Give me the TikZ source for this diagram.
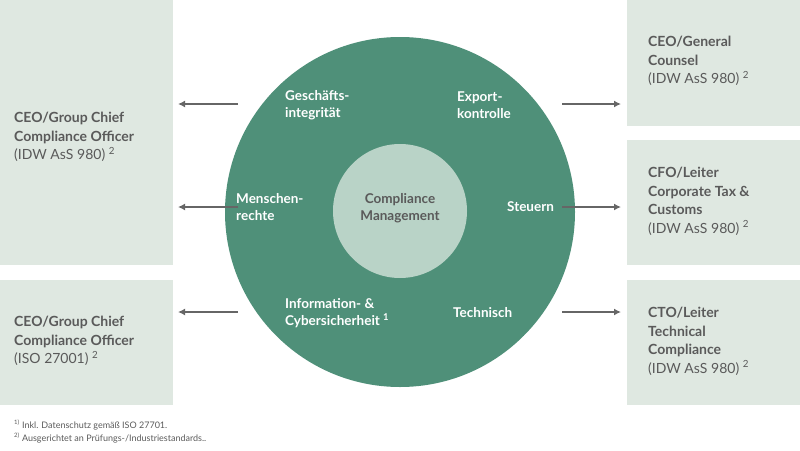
\documentclass[tikz,border=0pt]{standalone}
\usepackage{fontspec}
\setmainfont{Lato}
\begin{document}
\begin{tikzpicture}[x=1pt,y=-1pt,
  box/.style={fill=boxc,draw=none},
  bt/.style={anchor=north west,align=left,text=txt,font=\fontsize{14}{18.5}\selectfont,inner sep=0},
  ct/.style={anchor=west,align=left,text=white,font=\bfseries\fontsize{13.5}{17}\selectfont,inner sep=0},
  arr/.style={draw=arrc,line width=1.8pt,-{Latex[length=7pt,width=7pt]}}]
\usetikzlibrary{arrows.meta}
\definecolor{boxc}{HTML}{DFE8E1}
\definecolor{txt}{HTML}{5A5A5A}
\definecolor{big}{HTML}{4F9079}
\definecolor{inn}{HTML}{B9D3C7}
\definecolor{arrc}{HTML}{666666}
\useasboundingbox (0,0) rectangle (800,450);
\fill[box] (0,0) rectangle (173,265);
\fill[box] (0,280) rectangle (173,405);
\fill[box] (627,0) rectangle (800,126);
\fill[box] (627,140) rectangle (800,265);
\fill[box] (627,280) rectangle (800,405);
\node[bt] (l1) at (14,112) {\textbf{CEO/Group Chief}\\\textbf{Compliance Officer}\\(IDW AsS 980) \textsuperscript{2}};
\node[bt] (l2) at (14,316) {\textbf{CEO/Group Chief}\\\textbf{Compliance Officer}\\(ISO 27001) \textsuperscript{2}};
\node[bt] (r1) at (648,36) {\textbf{CEO/General}\\\textbf{Counsel}\\(IDW AsS 980) \textsuperscript{2}};
\node[bt] (r2) at (648,167) {\textbf{CFO/Leiter}\\\textbf{Corporate Tax \&}\\\textbf{Customs}\\(IDW AsS 980) \textsuperscript{2}};
\node[bt] (r3) at (648,307) {\textbf{CTO/Leiter}\\\textbf{Technical}\\\textbf{Compliance}\\(IDW AsS 980) \textsuperscript{2}};
\fill[big] (400,212) circle (175);
\fill[inn] (400,211) circle (67);
\node[align=center,text=txt,font=\bfseries\fontsize{13.5}{17}\selectfont] (cm) at (400,208) {Compliance\\Management};
\node[ct] (g) at (285,105) {Geschäfts-\\integrität};
\node[ct] (e) at (457,105) {Export-\\kontrolle};
\node[ct] (m) at (236,207) {Menschen-\\rechte};
\node[ct] (s) at (507,207) {Steuern};
\node[ct] (i) at (285,313) {Information- \&\\Cybersicherheit \textsuperscript{1}};
\node[ct] (t) at (453,313) {Technisch};
\coordinate (a1) at (238,104); \coordinate (b1) at (178,104);
\coordinate (a2) at (238,207); \coordinate (b2) at (178,207);
\coordinate (a3) at (238,312); \coordinate (b3) at (178,312);
\coordinate (c1) at (562,104); \coordinate (d1) at (621,104);
\coordinate (c2) at (562,207); \coordinate (d2) at (621,207);
\coordinate (c3) at (562,312); \coordinate (d3) at (621,312);
\foreach \p/\q in {a1/b1,a2/b2,a3/b3,c1/d1,c2/d2,c3/d3} \draw[arr] (\p) -- (\q);
\node[anchor=west,text=txt,font=\fontsize{9}{11}\selectfont,inner sep=0] (f1) at (14,425) {\textsuperscript{1)}\ Inkl. Datenschutz gemäß ISO 27701.};
\node[anchor=west,text=txt,font=\fontsize{9}{11}\selectfont,inner sep=0] (f2) at (14,438) {\textsuperscript{2)}\ Ausgerichtet an Prüfungs-/Industriestandards..};
\end{tikzpicture}
\end{document}
